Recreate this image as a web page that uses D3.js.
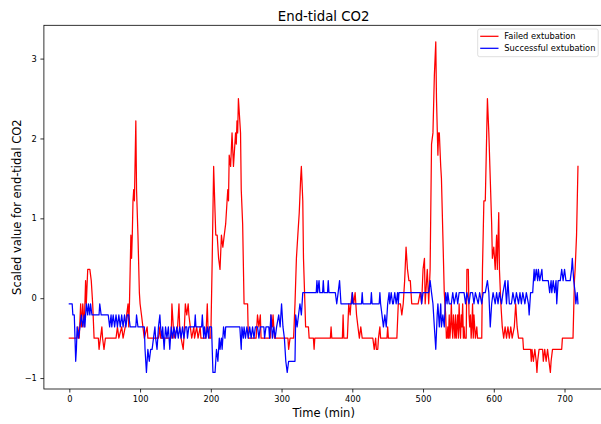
<!DOCTYPE html>
<html>
<head>
<meta charset="utf-8">
<script src="https://cdn.jsdelivr.net/npm/d3@7"></script>
<style>
  html, body { margin: 0; padding: 0; background: #fff; }
  svg { display: block; font-family: "DejaVu Sans", sans-serif; }
</style>
</head>
<body>
<svg id="chart" width="601" height="424"></svg>
<script>
// Scaled end-tidal CO2 per minute, [minute, value]
const failedExtubation = [
  [0,-0.5],[11,-0.5],[12,-0.36],[14,-0.5],[16,-0.07],[17,-0.36],[19,-0.07],[21,-0.36],[23,0.22],[24,-0.07],
  [26,0.36],[29,0.36],[31,0.22],[33,-0.07],[35,-0.5],[41,-0.5],[42,-0.64],[44,-0.5],[46,-0.36],[47,-0.5],
  [49,-0.64],[51,-0.5],[66,-0.5],[68,-0.36],[70,-0.5],[74,-0.36],[76,-0.5],[79,-0.36],[81,-0.21],[83,-0.07],
  [84,-0.36],[85,-0.07],[86,0.36],[87,0.79],[88,0.5],[89,0.79],[90,1.22],[91,1.36],[92,1.22],[94,2.22],
  [95,1.36],[97,0.79],[99,0.07],[100,-0.07],[102,-0.21],[104,-0.36],[106,-0.5],[110,-0.36],[111,-0.5],[126,-0.5],
  [128,-0.36],[129,-0.5],[144,-0.5],[145,-0.07],[147,-0.36],[148,-0.5],[153,-0.36],[155,-0.07],[156,-0.36],[158,-0.5],
  [161,-0.64],[162,-0.5],[164,-0.07],[166,-0.21],[168,-0.07],[169,-0.21],[171,-0.36],[173,-0.5],[176,-0.36],[177,-0.5],
  [180,-0.36],[182,-0.5],[185,-0.36],[186,-0.5],[193,-0.5],[195,-0.07],[196,-0.36],[198,-0.5],[200,-0.5],[202,0.5],
  [204,1.65],[206,1.07],[207,0.79],[209,0.79],[211,0.5],[213,0.36],[215,0.79],[217,0.64],[219,0.79],[221,0.93],
  [223,1.22],[224,1.36],[225,1.22],[226,1.79],[228,1.65],[230,2.07],[232,1.65],[233,1.79],[235,2.07],[236,1.93],
  [237,2.22],[238,2.07],[239,2.5],[240,2.36],[242,2.07],[243,1.36],[245,0.93],[247,-0.07],[252,-0.07],[253,-0.5],
  [264,-0.5],[266,-0.21],[268,-0.36],[270,-0.21],[271,-0.5],[284,-0.5],[285,-0.21],[287,-0.36],[288,-0.21],[290,-0.5],
  [309,-0.5],[310,-0.64],[312,-0.5],[317,-0.5],[319,-0.07],[321,0.5],[323,0.79],[325,1.07],[327,1.5],[328,1.65],
  [330,1.22],[331,0.5],[333,-0.07],[334,-0.36],[338,-0.36],[339,-0.5],[345,-0.5],[346,-0.64],[347,-0.5],[369,-0.5],
  [370,-0.36],[371,-0.5],[386,-0.5],[387,-0.21],[388,-0.5],[393,-0.5],[395,-0.07],[397,-0.21],[398,-0.07],[400,0.07],
  [402,-0.07],[404,0.07],[406,-0.21],[408,-0.36],[410,-0.5],[412,-0.36],[414,-0.5],[429,-0.5],[431,-0.64],[433,-0.5],
  [434,-0.64],[436,-0.64],[437,-0.5],[439,-0.36],[440,-0.5],[449,-0.5],[450,-0.36],[451,-0.5],[463,-0.5],[465,-0.07],
  [468,-0.07],[470,-0.21],[472,-0.07],[474,0.22],[476,0.64],[478,0.36],[480,0.22],[482,0.22],[484,-0.07],[493,-0.07],
  [496,0.07],[498,-0.07],[500,0.36],[502,0.5],[503,-0.07],[505,0.22],[506,0.36],[508,-0.07],[510,0.36],[512,1.93],
  [514,2.07],[516,2.79],[518,3.21],[519,2.5],[521,1.79],[522,2.07],[523,2.07],[525,1.65],[526,1.5],[528,0.79],
  [530,0.07],[532,-0.21],[533,-0.5],[534,-0.5],[535,-0.36],[536,-0.5],[537,-0.21],[538,-0.5],[539,-0.36],[540,-0.07],
  [541,-0.36],[542,-0.5],[543,-0.21],[544,-0.36],[545,-0.5],[546,-0.21],[547,-0.5],[548,-0.36],[549,-0.21],[550,-0.5],
  [551,-0.07],[552,-0.36],[553,-0.5],[554,-0.21],[555,-0.36],[556,-0.07],[557,-0.5],[558,-0.36],[559,-0.5],[561,-0.5],
  [562,0.36],[564,0.36],[565,-0.21],[566,-0.36],[567,-0.21],[568,-0.5],[569,-0.36],[570,-0.07],[571,-0.5],[572,-0.21],
  [573,-0.36],[574,-0.5],[576,-0.36],[577,-0.5],[583,-0.5],[584,0.36],[586,1.22],[588,1.22],[590,2.07],[591,2.5],
  [593,2.07],[595,1.5],[597,0.93],[598,0.5],[600,0.64],[602,0.36],[604,0.79],[605,0.36],[607,1.07],[608,0.36],
  [610,-0.07],[612,-0.36],[614,-0.5],[616,-0.36],[618,-0.5],[620,-0.36],[622,-0.5],[624,-0.36],[626,-0.5],[629,-0.36],
  [631,-0.07],[633,-0.36],[635,-0.5],[641,-0.5],[642,-0.64],[652,-0.64],[653,-0.79],[654,-0.64],[656,-0.79],[658,-0.64],
  [660,-0.79],[661,-0.93],[662,-0.79],[664,-0.64],[669,-0.64],[670,-0.79],[672,-0.64],[674,-0.79],[676,-0.64],[678,-0.79],
  [680,-0.93],[681,-0.79],[683,-0.64],[696,-0.64],[697,-0.5],[712,-0.5],[714,0.22],[715,0.36],[717,0.79],[719,1.65]
];

const successfulExtubation = [
  [0,-0.07],[4,-0.07],[5,-0.21],[7,-0.21],[8,-0.5],[9,-0.79],[10,-0.64],[11,-0.36],[13,-0.5],[15,-0.36],
  [17,-0.21],[19,-0.36],[21,-0.21],[22,-0.36],[24,-0.07],[26,-0.21],[27,-0.07],[29,-0.21],[30,-0.07],[32,-0.21],
  [42,-0.21],[43,-0.07],[45,-0.21],[55,-0.21],[57,-0.36],[59,-0.21],[60,-0.36],[62,-0.21],[64,-0.36],[66,-0.21],
  [68,-0.36],[70,-0.21],[72,-0.36],[74,-0.21],[76,-0.36],[78,-0.21],[80,-0.36],[82,-0.21],[84,-0.21],[86,-0.36],
  [94,-0.36],[95,-0.21],[97,-0.36],[106,-0.36],[107,-0.64],[109,-0.93],[111,-0.64],[113,-0.79],[115,-0.64],[117,-0.64],
  [119,-0.5],[121,-0.36],[122,-0.5],[124,-0.64],[126,-0.36],[128,-0.21],[129,-0.36],[131,-0.5],[132,-0.36],[134,-0.64],
  [136,-0.36],[138,-0.5],[140,-0.36],[142,-0.64],[144,-0.36],[146,-0.5],[148,-0.36],[150,-0.5],[152,-0.36],[154,-0.5],
  [156,-0.36],[158,-0.5],[160,-0.36],[162,-0.5],[164,-0.36],[166,-0.36],[167,-0.5],[169,-0.36],[177,-0.36],[178,-0.21],
  [179,-0.36],[187,-0.36],[188,-0.21],[190,-0.5],[191,-0.36],[193,-0.5],[195,-0.36],[197,-0.5],[198,-0.36],[201,-0.36],
  [202,-0.64],[203,-0.93],[206,-0.93],[208,-0.64],[210,-0.79],[212,-0.5],[213,-0.64],[215,-0.5],[216,-0.64],[218,-0.36],
  [220,-0.5],[221,-0.36],[241,-0.36],[243,-0.64],[244,-0.36],[246,-0.5],[247,-0.36],[249,-0.5],[251,-0.36],[253,-0.5],
  [255,-0.36],[257,-0.5],[259,-0.36],[261,-0.5],[263,-0.36],[266,-0.36],[268,-0.5],[270,-0.36],[275,-0.36],[276,-0.5],
  [278,-0.36],[282,-0.36],[283,-0.5],[285,-0.21],[287,-0.5],[289,-0.36],[291,-0.5],[293,-0.36],[296,-0.21],[298,-0.36],
  [300,-0.07],[302,-0.36],[304,-0.5],[306,-0.79],[308,-0.93],[310,-0.79],[319,-0.79],[320,-0.21],[322,-0.36],[324,-0.21],
  [326,-0.07],[328,-0.21],[330,0.07],[349,0.07],[350,0.22],[351,0.07],[353,0.22],[354,0.07],[358,0.07],[359,0.22],
  [360,0.07],[365,0.07],[366,0.22],[367,0.07],[376,0.07],[378,-0.07],[380,0.07],[382,0.22],[384,-0.07],[399,-0.07],
  [400,0.07],[401,-0.07],[413,-0.07],[414,0.07],[415,-0.07],[426,-0.07],[427,0.07],[428,-0.07],[438,-0.07],[439,0.07],
  [440,-0.07],[442,-0.21],[444,-0.36],[446,-0.21],[448,-0.36],[450,-0.07],[452,0.07],[453,-0.07],[455,0.07],[457,-0.07],
  [458,-0.07],[460,0.07],[462,-0.07],[464,0.07],[465,-0.07],[466,0.07],[497,0.07],[498,-0.07],[500,0.07],[508,0.07],
  [510,0.22],[512,0.07],[514,-0.07],[516,-0.36],[518,-0.64],[520,-0.21],[521,-0.07],[523,-0.36],[525,-0.07],[526,-0.36],
  [528,-0.21],[530,-0.36],[532,0.07],[534,-0.07],[535,0.07],[537,-0.07],[540,-0.07],[542,0.07],[544,-0.07],[547,0.07],
  [549,-0.07],[551,0.07],[558,0.07],[560,-0.07],[562,0.07],[565,-0.07],[567,0.07],[570,0.07],[572,-0.07],[574,0.07],
  [578,-0.07],[580,0.07],[583,-0.07],[585,0.07],[588,0.07],[591,0.22],[593,0.07],[595,-0.36],[597,-0.07],[599,0.07],
  [602,-0.07],[604,0.07],[606,-0.07],[608,0.07],[611,-0.07],[613,0.07],[616,0.22],[618,-0.07],[620,0.22],[622,-0.07],
  [625,-0.07],[627,0.07],[630,-0.07],[632,0.07],[635,-0.07],[637,0.07],[639,-0.07],[641,0.07],[644,-0.07],[646,0.07],
  [649,-0.07],[650,-0.21],[652,0.07],[655,0.07],[657,0.36],[658,0.22],[660,0.36],[662,0.22],[663,0.36],[665,0.22],
  [668,0.36],[669,0.22],[677,0.22],[679,0.07],[681,0.22],[682,0.07],[684,0.22],[686,0.07],[688,0.22],[689,-0.07],
  [691,0.22],[694,0.22],[696,0.36],[698,0.22],[700,0.36],[702,0.22],[708,0.22],[710,0.36],[711,0.5],[713,0.22],
  [715,0.07],[716,-0.07],[718,0.07],[719,-0.07]
];

const seriesNames = ["Failed extubation", "Successful extubation"];
const seriesColors = ["#ff0000", "#0000ff"];
const xTicks = [0, 100, 200, 300, 400, 500, 600, 700];
const yTicks = [-1, 0, 1, 2, 3];

const W = 601, H = 424;
const plot = { left: 43.9, right: 603.4, top: 25.3, bottom: 389 };

const svg = d3.select("#chart");
const series = [failedExtubation, successfulExtubation];
const all = series.flat();

// Data limits padded by 5% on each side
function padded(ext) {
  const m = (ext[1] - ext[0]) * 0.05;
  return [ext[0] - m, ext[1] + m];
}
const x = d3.scaleLinear()
  .domain(padded(d3.extent(all, d => d[0])))
  .range([plot.left, plot.right]);
const y = d3.scaleLinear()
  .domain(padded(d3.extent(all, d => d[1])))
  .range([plot.bottom, plot.top]);

svg.append("clipPath").attr("id", "plotClip")
  .append("rect")
  .attr("x", plot.left).attr("y", plot.top)
  .attr("width", plot.right - plot.left).attr("height", plot.bottom - plot.top);

const line = d3.line().x(d => x(d[0])).y(d => y(d[1]));

const lines = svg.append("g").attr("clip-path", "url(#plotClip)");
series.forEach((s, i) => {
  lines.append("path")
    .datum(s)
    .attr("d", line)
    .attr("fill", "none")
    .attr("stroke", seriesColors[i])
    .attr("stroke-width", 1.25)
    .attr("stroke-linejoin", "round")
    .attr("stroke-linecap", "square");
});

// Axes
const fmt = d => d < 0 ? "\u2212" + Math.abs(d) : String(d);
const xAxis = svg.append("g")
  .attr("transform", `translate(0,${plot.bottom})`)
  .call(d3.axisBottom(x).tickValues(xTicks).tickFormat(fmt).tickSize(3.5).tickPadding(3.5));
const yAxis = svg.append("g")
  .attr("transform", `translate(${plot.left},0)`)
  .call(d3.axisLeft(y).tickValues(yTicks).tickFormat(fmt).tickSize(3.5).tickPadding(3.5));

[xAxis, yAxis].forEach(g => {
  g.select(".domain").remove();
  g.selectAll(".tick line").attr("stroke", "#000").attr("stroke-width", 0.8);
  g.selectAll(".tick text")
    .attr("fill", "#000")
    .style("font-family", "'DejaVu Sans', sans-serif")
    .style("font-size", "8.3px");
});

// Frame
svg.append("rect")
  .attr("x", plot.left).attr("y", plot.top)
  .attr("width", plot.right - plot.left).attr("height", plot.bottom - plot.top)
  .attr("fill", "none").attr("stroke", "#000").attr("stroke-width", 0.8);

// Title and axis labels
svg.append("text")
  .attr("x", (plot.left + plot.right) / 2).attr("y", 20.5)
  .attr("text-anchor", "middle")
  .style("font-size", "13.3px")
  .text("End-tidal CO2");

svg.append("text")
  .attr("x", (plot.left + plot.right) / 2).attr("y", 416.5)
  .attr("text-anchor", "middle")
  .style("font-size", "11.5px")
  .text("Time (min)");

svg.append("text")
  .attr("transform", `translate(20.5,${(plot.top + plot.bottom) / 2}) rotate(-90)`)
  .attr("text-anchor", "middle")
  .style("font-size", "11.5px")
  .text("Scaled value for end-tidal CO2");

// Legend
const legend = svg.append("g").attr("transform", "translate(477.7,29)");
legend.append("rect")
  .attr("width", 120.5).attr("height", 27.7)
  .attr("rx", 2).attr("ry", 2)
  .attr("fill", "#fff").attr("fill-opacity", 0.8)
  .attr("stroke", "#d5d5d5").attr("stroke-width", 0.8);
seriesNames.forEach((name, i) => {
  const cy = 7.3 + i * 12;
  legend.append("line")
    .attr("x1", 2.5).attr("x2", 20.8).attr("y1", cy).attr("y2", cy)
    .attr("stroke", seriesColors[i]).attr("stroke-width", 1.25);
  legend.append("text")
    .attr("x", 26.6).attr("y", cy + 3)
    .style("font-size", "8.3px")
    .text(name);
});
</script>
</body>
</html>
